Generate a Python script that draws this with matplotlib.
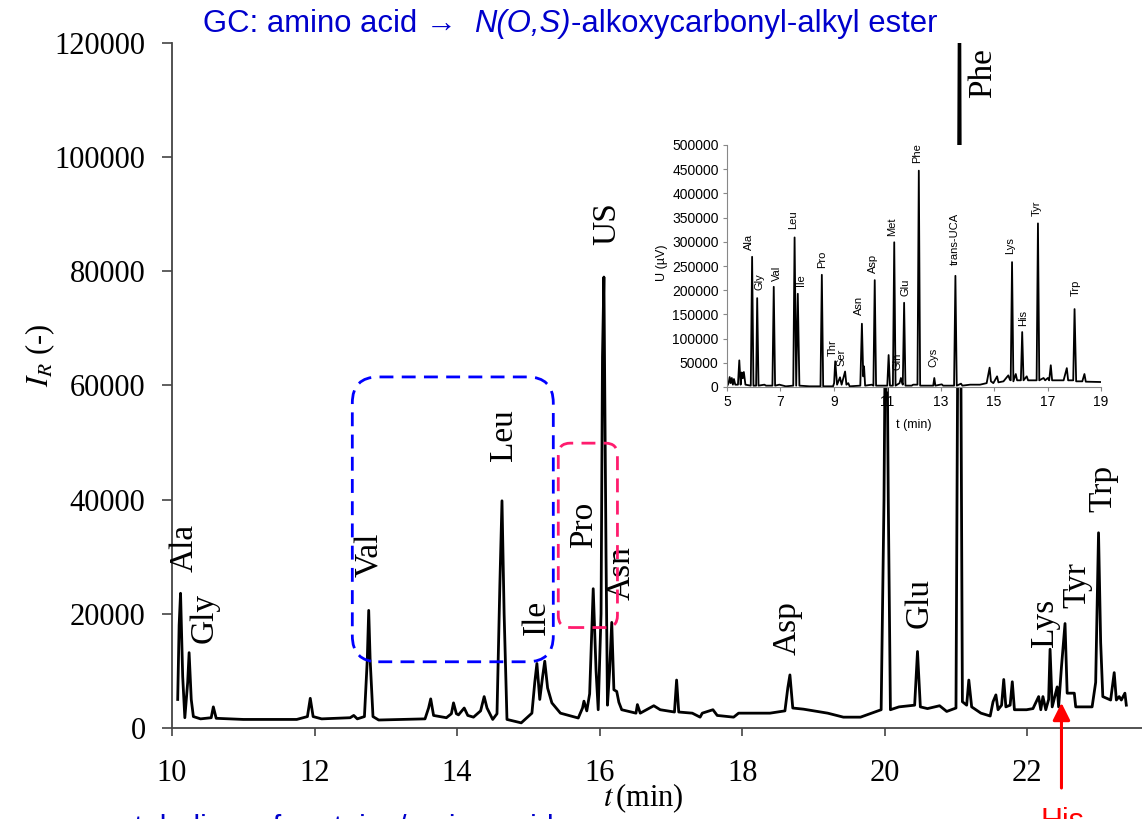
import numpy as np
import matplotlib
matplotlib.use("Agg")
import matplotlib.pyplot as plt
from matplotlib.patches import FancyBboxPatch

SANS = 'Liberation Sans'
SERIF = 'Liberation Serif'
plt.rcParams['font.family'] = [SERIF, 'DejaVu Serif']

# ---- main GC chromatogram: time (min), intensity (thousands) ----
main_t = [10.08, 10.10, 10.12, 10.15, 10.18, 10.22, 10.24, 10.27, 10.30, 10.40,
          10.55, 10.58, 10.62, 11.00, 11.75, 11.90, 11.94, 11.98, 12.10, 12.50,
          12.55, 12.60, 12.70, 12.74, 12.76, 12.78, 12.82, 12.90, 13.55, 13.60,
          13.63, 13.67, 13.85, 13.92, 13.95, 13.99, 14.02, 14.10, 14.15, 14.23,
          14.33, 14.38, 14.42, 14.50, 14.56, 14.60, 14.63, 14.66, 14.70, 14.90,
          15.05, 15.09, 15.12, 15.16, 15.20, 15.23, 15.27, 15.33, 15.45, 15.70,
          15.76, 15.78, 15.82, 15.86, 15.91, 15.95, 15.98, 16.02, 16.04, 16.06,
          16.09, 16.11, 16.14, 16.17, 16.20, 16.24, 16.27, 16.31, 16.51, 16.53,
          16.57, 16.76, 16.85, 17.05, 17.08, 17.11, 17.30, 17.41, 17.44, 17.59,
          17.65, 17.88, 17.95, 18.39, 18.60, 18.64, 18.67, 18.71, 18.86, 19.20,
          19.42, 19.66, 19.95, 19.99, 20.02, 20.05, 20.08, 20.20, 20.42, 20.46,
          20.50, 20.60, 20.77, 20.87, 21.00, 21.03, 21.05, 21.07, 21.09, 21.15,
          21.18, 21.22, 21.35, 21.48, 21.52, 21.56, 21.59, 21.64, 21.67, 21.70,
          21.76, 21.79, 21.82, 21.99, 22.08, 22.16, 22.19, 22.22, 22.26, 22.30,
          22.32, 22.35, 22.42, 22.44, 22.48, 22.53, 22.56, 22.66, 22.68, 22.91,
          22.96, 23.00, 23.03, 23.06, 23.17, 23.22, 23.25, 23.29, 23.32, 23.37,
          23.39]
main_k = [5.0, 18.0, 23.6, 9.0, 1.8, 8.0, 13.2, 5.0, 2.0, 1.6,
          1.8, 3.7, 1.7, 1.5, 1.5, 2.0, 5.2, 2.0, 1.6, 1.8,
          2.2, 1.6, 2.0, 12.0, 20.6, 12.0, 2.0, 1.4, 1.6, 3.5,
          5.1, 2.2, 1.8, 2.5, 4.4, 2.5, 2.3, 3.5, 2.2, 1.9,
          3.0, 5.5, 3.5, 1.5, 2.5, 25.0, 39.8, 20.0, 1.5, 0.9,
          2.6, 8.0, 11.3, 5.0, 9.0, 11.7, 7.0, 4.4, 2.6, 1.75,
          3.5, 4.7, 3.0, 6.0, 24.4, 10.0, 3.2, 20.0, 65.0, 79.0,
          30.0, 4.0, 10.0, 18.5, 6.7, 6.4, 4.5, 3.2, 2.6, 4.1,
          2.6, 3.9, 3.2, 2.8, 8.4, 2.8, 2.6, 1.9, 2.6, 3.2,
          2.2, 1.9, 2.6, 2.6, 3.0, 7.0, 9.3, 3.5, 3.3, 2.6,
          1.9, 1.9, 3.2, 40.0, 90.0, 40.0, 3.2, 3.7, 4.0, 13.4,
          3.7, 3.4, 3.9, 2.9, 3.5, 80.0, 140.0, 60.0, 4.6, 4.0,
          8.4, 3.7, 2.6, 2.1, 4.6, 5.8, 3.2, 4.0, 8.5, 3.7,
          4.0, 8.1, 3.2, 3.2, 3.4, 5.5, 3.2, 5.5, 3.2, 5.0,
          13.8, 3.7, 7.2, 3.7, 10.7, 18.3, 6.1, 6.1, 3.7, 3.7,
          8.0, 34.2, 15.0, 5.5, 4.9, 9.7, 4.9, 5.5, 4.9, 6.1,
          4.0]

main_labels = ['Ala', 'Gly', 'Val', 'Leu', 'Ile', 'Pro', 'US', 'Asn',
               'Asp', 'Glu', 'Phe', 'Lys', 'Tyr', 'Trp']
main_label_t = [10.18, 10.46, 12.77, 14.65, 15.12, 15.78, 16.11, 16.31,
                18.63, 20.49, 21.38, 22.24, 22.70, 23.07]
main_label_k = [27.4, 14.9, 26.5, 46.7, 16.3, 31.5, 84.6, 22.4,
                12.8, 17.5, 110.3, 14.2, 21.0, 37.9]

# highlighted regions (t0, t1, I0, I1 in thousands)
blue_box = [12.53, 15.35, 11.6, 61.5]
pink_box = [15.42, 16.25, 17.6, 49.9]
his_t = 22.48

# ---- inset LC chromatogram: time (min), U (thousands of uV) ----
inset_t = [5.00, 5.06, 5.10, 5.14, 5.18, 5.22, 5.26, 5.31, 5.41, 5.46,
           5.51, 5.55, 5.59, 5.63, 5.69, 5.89, 5.94, 5.99, 6.09, 6.13,
           6.18, 6.40, 6.46, 6.70, 6.75, 6.80, 6.96, 7.20, 7.48, 7.53,
           7.59, 7.65, 7.71, 8.09, 8.50, 8.55, 8.60, 8.97, 9.01, 9.05,
           9.12, 9.23, 9.29, 9.42, 9.47, 9.54, 9.59, 9.99, 10.05, 10.10,
           10.13, 10.17, 10.42, 10.48, 10.53, 10.58, 11.00, 11.05, 11.10, 11.21,
           11.26, 11.31, 11.46, 11.51, 11.56, 11.58, 11.63, 11.68, 11.91, 11.97,
           12.13, 12.18, 12.23, 12.47, 12.72, 12.76, 12.80, 13.04, 13.09, 13.50,
           13.55, 13.60, 13.76, 13.81, 14.10, 14.47, 14.72, 14.83, 14.88, 14.97,
           15.11, 15.16, 15.35, 15.53, 15.59, 15.62, 15.67, 15.72, 15.81, 15.86,
           16.00, 16.05, 16.10, 16.22, 16.27, 16.59, 16.64, 16.69, 16.85, 16.91,
           17.01, 17.06, 17.12, 17.17, 17.60, 17.72, 17.77, 17.96, 18.01, 18.07,
           18.30, 18.38, 18.43, 19.00]
inset_k = [1.4, 8.0, 20.6, 8.0, 18.6, 4.8, 16.5, 4.8, 4.8, 55.0,
           4.8, 30.0, 18.0, 31.0, 4.8, 2.8, 269.0, 2.8, 2.8, 183.6,
           2.8, 4.8, 2.8, 2.8, 207.0, 2.8, 4.8, 1.4, 2.8, 309.0,
           2.8, 192.6, 2.8, 1.4, 1.4, 231.8, 1.4, 1.4, 8.0, 53.0,
           4.8, 20.0, 4.8, 32.0, 4.8, 8.0, 1.4, 2.8, 130.7, 22.0,
           42.6, 2.8, 4.8, 2.8, 220.8, 2.8, 2.8, 66.0, 2.8, 2.8,
           299.0, 2.8, 8.0, 18.6, 8.0, 4.8, 174.0, 2.8, 2.8, 4.8,
           4.8, 447.0, 2.8, 2.8, 2.8, 18.6, 2.8, 5.5, 2.8, 2.8,
           229.7, 2.8, 6.9, 2.8, 4.8, 4.8, 8.0, 40.0, 11.7, 8.0,
           22.0, 9.6, 11.7, 24.0, 15.0, 13.8, 258.0, 11.7, 26.8, 13.8,
           13.8, 113.5, 13.8, 22.0, 13.8, 13.8, 338.0, 13.8, 18.6, 13.8,
           18.6, 13.8, 45.0, 13.8, 13.8, 39.0, 13.8, 13.8, 161.0, 11.7,
           11.7, 26.8, 11.0, 10.3]

inset_labels = ['Ala', 'Gly', 'Val', 'Leu', 'Ile', 'Pro', 'Thr', 'Ser', 'Asn',
                'Asp', 'Gln', 'Met', 'Glu', 'Phe', 'Cys', 'trans-UCA', 'Lys',
                'His', 'Tyr', 'Trp']
inset_label_t = [5.81, 6.21, 6.88, 7.46, 7.78, 8.55, 8.95, 9.27, 9.93,
                 10.47, 11.37, 11.18, 11.69, 12.12, 12.74, 13.51, 15.60,
                 16.10, 16.60, 18.04]
inset_label_k = [283, 201, 218, 327, 208, 245, 65, 43, 148,
                 235, 36, 312, 187, 463, 41, 252, 274,
                 125, 354, 187]

W, H = 1142, 819
fig = plt.figure(figsize=(W / 100, H / 100), dpi=100)

xmin, xmax = 10, 23.61
ymin, ymax = 0, 120000
ax = fig.add_axes([172 / W, 1 - 728 / H, 970 / W, 685 / H])
ax.plot(main_t, np.array(main_k) * 1000, color='black', lw=2.0)
ax.set_xlim(xmin, xmax)
ax.set_ylim(ymin, ymax)
ax.set_xticks(range(10, 23, 2))
ax.set_yticks(range(0, 120001, 20000))
ax.spines[['top', 'right']].set_visible(False)
for s in ['left', 'bottom']:
    ax.spines[s].set_color('#444444')
    ax.spines[s].set_linewidth(1.3)
ax.tick_params(axis='y', length=7, width=1.2, color='#444444', pad=12, labelsize=22)
ax.tick_params(axis='x', length=6, width=1.2, color='#444444', pad=16, labelsize=22)

for lab, t, k in zip(main_labels, main_label_t, main_label_k):
    ax.text(t, k * 1000, lab, rotation=90, ha='center', va='bottom', fontsize=24)

# rounded dashed boxes, corner radius given in pixels
pos = ax.get_position()
xpp = (xmax - xmin) / (pos.width * W)
ypp = (ymax - ymin) / (pos.height * H)
for box, col, r in [(blue_box, '#0000FF', 26), (pink_box, '#FF1C6E', 12)]:
    p = FancyBboxPatch((box[0], box[2] * 1000), box[1] - box[0], (box[3] - box[2]) * 1000,
                       boxstyle=f"round,pad=0,rounding_size={r * xpp}",
                       mutation_aspect=ypp / xpp, fill=False, edgecolor=col,
                       lw=2.0, linestyle=(0, (5, 3)), zorder=3)
    ax.add_patch(p)

ax.annotate('', xy=(his_t, 4900), xytext=(his_t, -11000),
            arrowprops=dict(arrowstyle='-|>', color='red', lw=2.2, mutation_scale=26),
            annotation_clip=False)

fig.text(40 / W, 1 - 355 / H, r"$I_R$ (-)", rotation=90, ha='center', va='center',
         fontsize=22, math_fontfamily='stix')
fig.text(643 / W, 1 - 798 / H, r"$t\,$(min)", ha='center', va='center',
         fontsize=22, math_fontfamily='stix')

# title written in pieces so that only N(O,S) is italic
renderer = fig.canvas.get_renderer()
x = 203 / W
for piece, style in [("GC: amino acid →  ", 'normal'), ("N(O,S)", 'italic'),
                     ("-alkoxycarbonyl-alkyl ester", 'normal')]:
    t = fig.text(x, 1 - 24 / H, piece, ha='left', va='center', color='#0000CC',
                 fontsize=22.3, fontstyle=style, family=[SANS, 'DejaVu Sans'])
    x = t.get_window_extent(renderer).x1 / W

# captions below, mostly cut off by the bottom edge as in the original slide
fig.text(92 / W, 1 - 837 / H, "metabolism of proteins/amino acids", ha='left',
         va='baseline', color='#0000CC', fontsize=22, family=[SANS, 'DejaVu Sans'])
fig.text(1062 / W, 1 - 830 / H, "His", ha='center', va='baseline',
         color='red', fontsize=22, family=[SANS, 'DejaVu Sans'])

# ---- inset ----
axi = fig.add_axes([727 / W, 1 - 387 / H, 374 / W, 242 / H], zorder=5)
axi.set_facecolor('white')
axi.plot(inset_t, np.array(inset_k) * 1000, color='black', lw=1.3)
axi.set_xlim(5, 19)
axi.set_ylim(0, 500000)
axi.set_xticks(range(5, 20, 2))
axi.set_yticks(range(0, 500001, 50000))
axi.spines[['top', 'right']].set_visible(False)
for s in ['left', 'bottom']:
    axi.spines[s].set_color('#888888')
axi.tick_params(length=3, color='#888888', labelsize=10, pad=3)
for tl in axi.get_xticklabels() + axi.get_yticklabels():
    tl.set_family(SANS)
for lab, t, k in zip(inset_labels, inset_label_t, inset_label_k):
    axi.text(t, k * 1000, lab, rotation=90, ha='center', va='bottom',
             fontsize=8, family=SANS)
fig.text(662 / W, 1 - 263 / H, "U (µV)", rotation=90, ha='center', va='center',
         fontsize=9, family=SANS)
fig.text(914 / W, 1 - 425 / H, "t (min)", ha='center', va='center',
         fontsize=9, family=SANS)

fig.savefig('out.png', dpi=100)
